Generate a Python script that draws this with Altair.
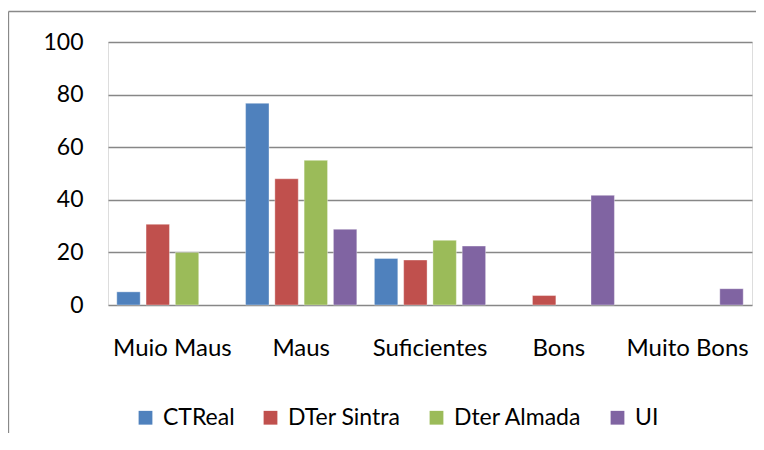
import altair as alt
import pandas as pd

categories = ["Muio Maus", "Maus", "Suficientes", "Bons", "Muito Bons"]
series = ["CTReal", "DTer Sintra", "Dter Almada", "UI"]
ctreal = [5.0, 76.7, 17.7, 0, 0]
dter_sintra = [30.7, 48.0, 17.1, 3.6, 0]
dter_almada = [20.0, 55.0, 24.6, 0, 0]
ui = [0, 28.8, 22.4, 41.7, 6.2]
colors = ["#4F81BD", "#C0504D", "#9BBB59", "#8064A2"]
y_ticks = [0, 20, 40, 60, 80, 100]

rows = []
for s, vals in zip(series, [ctreal, dter_sintra, dter_almada, ui]):
    for c, v in zip(categories, vals):
        if v > 0:
            rows.append({"cat": c, "series": s, "value": v})
df = pd.DataFrame(rows)

FONT = "Lato"

bars = alt.Chart(df).mark_bar(stroke="white", strokeWidth=0.6, strokeOpacity=0.6).encode(
    x=alt.X("cat:N", sort=categories, title=None,
            scale=alt.Scale(domain=categories, paddingInner=0, paddingOuter=0),
            axis=alt.Axis(labelAngle=0, domain=False, ticks=False, labelPadding=31,
                          labelFontSize=24, labelColor="#000000", labelFont=FONT, grid=False)),
    xOffset=alt.XOffset("series:N", sort=series,
                        scale=alt.Scale(domain=series, paddingInner=0.2, paddingOuter=0.3)),
    y=alt.Y("value:Q", title=None,
            scale=alt.Scale(domain=[0, 100], nice=False),
            axis=alt.Axis(values=y_ticks, domain=False, ticks=False, labelPadding=25,
                          labelFontSize=23, labelColor="#000000", labelFont=FONT,
                          grid=True, gridColor="#878787", gridWidth=1.3)),
    color=alt.Color("series:N", sort=series,
                    scale=alt.Scale(domain=series, range=colors),
                    legend=alt.Legend(title=None, orient="none", direction="horizontal",
                                      legendX=26, legendY=364, columns=4,
                                      symbolType="square", symbolSize=190,
                                      symbolStrokeWidth=0, symbolOpacity=1,
                                      labelFontSize=23, labelFont=FONT, labelColor="#000000",
                                      labelOffset=6, columnPadding=24)),
)

frame = alt.Data(values=[{}])
top_line = alt.Chart(frame).mark_rule(color="#898989", strokeWidth=1.3).encode(
    x=alt.value(-99.5), x2=alt.value(650), y=alt.value(-30.5), y2=alt.value(-30.5)
)
left_line = alt.Chart(frame).mark_rule(color="#898989", strokeWidth=1.3).encode(
    x=alt.value(-99.5), x2=alt.value(-99.5), y=alt.value(-30.5), y2=alt.value(420)
)

chart = alt.layer(top_line, left_line, bars).properties(
    width=644, height=263,
    autosize=alt.AutoSizeParams(type="none"),
    padding={"left": 100, "top": 34, "right": 4, "bottom": 128},
).configure_view(stroke=None).configure(background="white")

chart.save("out.html", embed_options={"renderer": "svg", "actions": False})
